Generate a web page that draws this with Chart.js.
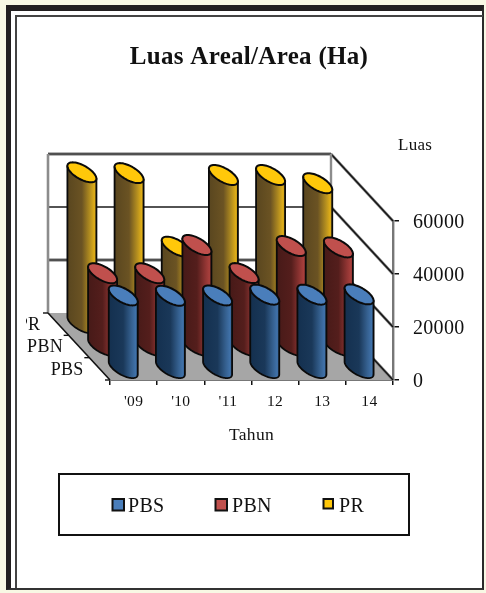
<!DOCTYPE html>
<html>
<head>
<meta charset="utf-8">
<style>
html,body{margin:0;padding:0;width:486px;height:593px;overflow:hidden;background:#f8f8e4}
.f{position:absolute;box-sizing:border-box}
#outer{left:6px;top:5px;width:478px;height:585px;background:#fff;border-left:5px solid #221f20;border-top:6px solid #221f20;border-right:2px solid #2a2a2a;border-bottom:2px solid #333}
#inner{left:15px;top:15px;width:468px;height:573px;border-left:2px solid #444;border-top:2px solid #444}
canvas{position:absolute;left:0;top:0;filter:blur(0.4px)}
</style>
<script src="https://cdn.jsdelivr.net/npm/chart.js@4"></script>
</head>
<body>
<div class="f" id="outer"></div>
<div class="f" id="inner"></div>
<canvas id="c" width="486" height="593"></canvas>
<script>
const categories = ["'09", "'10", "'11", "12", "13", "14"];
const valuesPBS = [27700, 27600, 27700, 28000, 28000, 28100];
const valuesPBN = [27650, 27650, 38300, 27700, 37900, 37400];
const valuesPR  = [57300, 57000, 29250, 56300, 56300, 53200];
const yTicks = [0, 20000, 40000, 60000];
const seriesNames = ["PBS", "PBN", "PR"];
const titleText = "Luas Areal/Area (Ha)";
const xTitle = "Tahun";
const yTitle = "Luas";

const SERIF = '"Liberation Serif"';
const DEPTH_X = -62, DEPTH_Y = -67;
const ROW = [1/6, 1/2, 5/6];
const ELLIPSE_BX = 9.25, ELLIPSE_BY = 10;
const TOPS = ["#4a7ebb", "#c0504d", "#ffc80a"];
const SHADES = [
  [[0,"#14304f"],[0.5,"#1a3859"],[0.78,"#35608f"],[0.93,"#4072aa"],[1,"#2b5078"]],
  [[0,"#471a18"],[0.5,"#541e1c"],[0.8,"#913533"],[0.93,"#a83f3c"],[1,"#7c2d2b"]],
  [[0,"#59461f"],[0.5,"#6b5323"],[0.78,"#b58f1f"],[0.93,"#e0ae18"],[1,"#a8861c"]]
];

function line(ctx, x1, y1, x2, y2, color, w){
  ctx.beginPath(); ctx.moveTo(x1,y1); ctx.lineTo(x2,y2);
  ctx.strokeStyle=color; ctx.lineWidth=w; ctx.stroke();
}
function cylinder(ctx, bar, i){
  const dx = DEPTH_X*ROW[i], dy = DEPTH_Y*ROW[i];
  const cx = bar.x+dx, top = bar.y+dy, bot = bar.base+dy;
  const a = bar.width/2, bx = ELLIPSE_BX, by = ELLIPSE_BY;
  const px = (c,t)=>[cx + a*Math.cos(t) - bx*Math.sin(t), c - by*Math.sin(t)];
  const t0 = Math.atan2(-bx, a);
  const R = Math.sqrt(a*a+bx*bx);
  const g = ctx.createLinearGradient(cx-R,0,cx+R,0);
  SHADES[i].forEach(s=>g.addColorStop(s[0],s[1]));
  ctx.beginPath();
  let p = px(top,t0); ctx.moveTo(p[0],p[1]);
  for(let k=0;k<=40;k++){ p = px(bot,t0-Math.PI*k/40); ctx.lineTo(p[0],p[1]); }
  p = px(top,t0-Math.PI); ctx.lineTo(p[0],p[1]);
  ctx.closePath();
  ctx.fillStyle=g; ctx.fill();
  ctx.strokeStyle="#0a0a0a"; ctx.lineWidth=1.8; ctx.lineJoin="round"; ctx.stroke();
  ctx.beginPath();
  for(let k=0;k<=60;k++){ p = px(top,Math.PI*2*k/60); if(k===0) ctx.moveTo(p[0],p[1]); else ctx.lineTo(p[0],p[1]); }
  ctx.closePath();
  ctx.fillStyle=TOPS[i]; ctx.fill();
  ctx.lineWidth=2; ctx.stroke();
}
const scene = {
  id:"scene",
  beforeDraw(chart){ chart.ctx.letterSpacing="0.3px"; },
  beforeDatasetDraw(){ return false; },
  beforeDatasetsDraw(chart){
    const ctx=chart.ctx, x=chart.scales.x, y=chart.scales.y;
    const L=x.left, Rt=x.right, B=y.getPixelForValue(0), T=y.getPixelForValue(60000);
    const bL=L+DEPTH_X, bR=Rt+DEPTH_X, bB=B+DEPTH_Y, bT=T+DEPTH_Y;
    ctx.save();
    ctx.beginPath(); ctx.moveTo(bL,bB); ctx.lineTo(bR,bB); ctx.lineTo(Rt,B); ctx.lineTo(L,B); ctx.closePath();
    ctx.fillStyle="#a6a6a6"; ctx.fill();
    yTicks.forEach(v=>{
      const py=y.getPixelForValue(v);
      const gray = v===20000 || v===60000 || v===0;
      if(v!==0){
        line(ctx,bL,py+DEPTH_Y,bR,py+DEPTH_Y, gray?"#6e6e6e":"#1a1a1a", gray?3:1.6);
        if(gray) line(ctx,bL,py+DEPTH_Y,bR,py+DEPTH_Y,"#333",1);
      }
      line(ctx,bR,py+DEPTH_Y,Rt,py,"#777",2.6);
      line(ctx,bR,py+DEPTH_Y,Rt,py,"#111",1.2);
    });
    line(ctx,bL,bT,bL,bB,"#8c8c8c",2.6);
    line(ctx,bR,bT,bR,bB,"#8c8c8c",2.4);
    line(ctx,bL,bB,L,B,"#111",1.6);
    [0,1/3,2/3,1].forEach(f=>{
      const ex=L+DEPTH_X*f, ey=B+DEPTH_Y*f;
      line(ctx,ex,ey,ex-5,ey,"#111",1.4);
    });
    ctx.save();
    ctx.beginPath(); ctx.rect(26,300,120,90); ctx.clip();
    ctx.font="18px "+SERIF; ctx.fillStyle="#111"; ctx.textAlign="right"; ctx.textBaseline="middle";
    seriesNames.forEach((n,i)=>{
      const ex=L+DEPTH_X*ROW[i], ey=B+DEPTH_Y*ROW[i];
      ctx.fillText(n,ex-(i===2?18:16),ey+1);
    });
    ctx.restore();
    for(let i=2;i>=0;i--){
      chart.getDatasetMeta(i).data.forEach(b=>cylinder(ctx,b,i));
    }
    ctx.restore();
  },
  afterDraw(chart){
    const ctx=chart.ctx;
    ctx.save();
    ctx.fillStyle="#111"; ctx.textBaseline="middle"; ctx.textAlign="left";
    ctx.font="17px "+SERIF; ctx.fillText(yTitle,398,146);
    ctx.strokeStyle="#111"; ctx.lineWidth=2; ctx.strokeRect(59,474,350,61);
    const swatch=[112.5,215.5,323.5], label=[128,232,339], size=[11.5,11.5,9.5];
    ctx.font="20px "+SERIF;
    seriesNames.forEach((n,i)=>{
      ctx.fillStyle=TOPS[i]; ctx.fillRect(swatch[i],499,size[i],size[i]);
      ctx.lineWidth=2; ctx.strokeRect(swatch[i],499,size[i],size[i]);
      ctx.fillStyle="#111"; ctx.fillText(n,label[i],507);
    });
    ctx.restore();
  },
  afterLayout(chart){
    const t=chart.titleBlock; if(t){ t.left=0; t.right=498; t.width=498; }
  }
};
new Chart(document.getElementById("c"),{
  type:"bar",
  plugins:[scene],
  data:{labels:categories,datasets:[
    {label:seriesNames[0],data:valuesPBS,backgroundColor:TOPS[0],grouped:false},
    {label:seriesNames[1],data:valuesPBN,backgroundColor:TOPS[1],grouped:false},
    {label:seriesNames[2],data:valuesPR,backgroundColor:TOPS[2],grouped:false}
  ]},
  options:{
    responsive:false,animation:false,devicePixelRatio:1,
    categoryPercentage:1,barPercentage:0.474,
    layout:{padding:{left:110,top:0,right:0,bottom:128}},
    plugins:{
      legend:{display:false},tooltip:{enabled:false},
      title:{display:true,text:titleText,color:"#111",font:{family:SERIF,size:25,weight:"bold",lineHeight:1.2},padding:{top:43,bottom:148}}
    },
    scales:{
      x:{
        offset:true,
        grid:{drawOnChartArea:false,drawTicks:true,tickLength:5,color:"#111",lineWidth:1.5},
        border:{display:true,color:"#777",width:2},
        ticks:{color:"#111",padding:8,maxRotation:0,autoSkip:false,font:{family:SERIF,size:15.5}},
        title:{display:true,text:xTitle,color:"#111",font:{family:SERIF,size:17.5},padding:{top:8,bottom:19}},
        afterFit(s){ s.height=85; }
      },
      y:{
        position:"right",min:0,max:60000,
        afterBuildTicks(s){ s.ticks=yTicks.map(v=>({value:v})); },
        grid:{drawOnChartArea:false,drawTicks:true,tickLength:6,color:"#111",lineWidth:1.5},
        border:{display:true,color:"#777",width:2.4},
        ticks:{color:"#111",padding:14,labelOffset:2,font:{family:SERIF,size:20},callback:v=>String(v)},
        afterFit(s){ s.width=93; }
      }
    }
  }
});
</script>
</body>
</html>
